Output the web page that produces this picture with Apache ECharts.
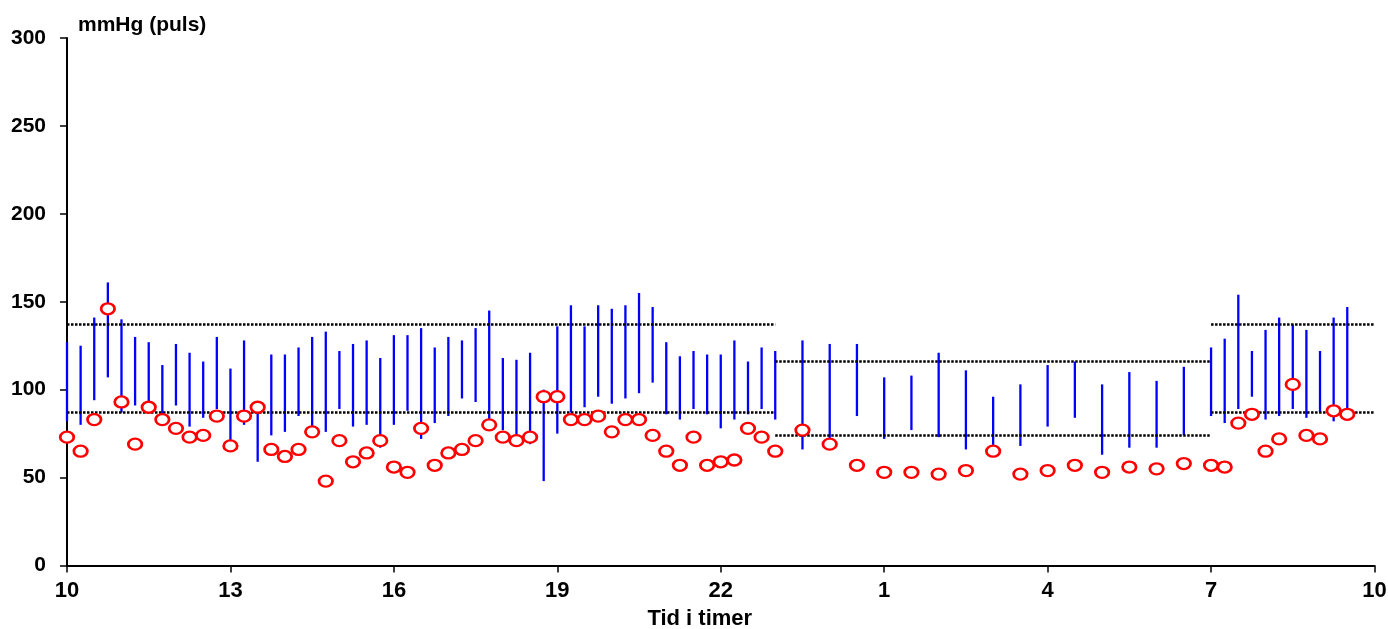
<!DOCTYPE html>
<html>
<head>
<meta charset="utf-8">
<script src="https://cdn.jsdelivr.net/npm/echarts@6/dist/echarts.min.js"></script>
<style>
  html, body { margin: 0; padding: 0; background: #fff; }
  #chart { width: 1388px; height: 629px; }
</style>
</head>
<body>
<div id="chart"></div>
<script>
// Måletidspunkt (klokkeslett)
const times = [
  '10:00','10:15','10:30','10:45','11:00','11:15','11:30','11:45','12:00','12:15','12:30','12:45',
  '13:00','13:15','13:30','13:45','14:00','14:15','14:30','14:45','15:00','15:15','15:30','15:45',
  '16:00','16:15','16:30','16:45','17:00','17:15','17:30','17:45','18:00','18:15','18:30','18:45',
  '19:00','19:15','19:30','19:45','20:00','20:15','20:30','20:45','21:00','21:15','21:30','21:45',
  '22:00','22:15','22:30','22:45','23:00',
  '23:30','0:00','0:30','1:00','1:30','2:00','2:30','3:00','3:30','4:00','4:30','5:00','5:30','6:00','6:30',
  '7:00','7:15','7:30','7:45','8:00','8:15','8:30','8:45','9:00','9:15','9:30'
]
const systolic = [
  127,125,141,161,140,130,127,114,126,121,116,130,
  112,128,93,120,120,124,130,133,122,126,128,118,
  131,131,135,124,130,128,135,145,118,117,121,100,
  136,148,136,148,146,148,155,147,127,119,122,120,
  120,128,116,124,122,
  128,126,126,107,108,121,111,96,103,114,116,103,110,105,113,
  124,129,154,122,134,141,137,134,122,141,147
]
const diastolic = [
  82,80,94,107,87,91,88,86,91,79,84,89,
  71,80,59,74,76,85,78,76,89,79,80,67,
  80,88,72,81,85,95,93,80,77,73,69,48,
  75,87,90,96,92,95,98,104,86,83,89,86,
  78,83,86,89,83,
  66,72,85,72,77,73,66,68,68,79,84,63,67,67,74,
  85,81,89,96,83,85,89,84,87,82,88
]
const pulse = [
  73,65,83,146,93,69,90,83,78,73,74,85,
  68,85,90,66,62,66,76,48,71,59,64,71,
  56,53,78,57,64,66,71,80,73,71,73,96,
  96,83,83,85,76,83,83,74,65,57,73,57,
  59,60,78,73,65,
  77,69,57,53,53,52,54,65,52,54,57,53,56,55,58,
  57,56,81,86,65,72,103,74,72,88,86
]
// Grenseverdier dag / natt
const limitFrom = ['10:00', '23:00', '7:00']
const limitTo = ['23:00', '7:00', '10:00']
const limitUpper = [137, 116, 137]
const limitLower = [87, 74, 87]
const xTicks = ['10', '13', '16', '19', '22', '1', '4', '7', '10']

// timer etter kl. 10
function hoursFrom10(s) {
  const [h, m] = s.split(':').map(Number)
  let v = h + m / 60 - 10
  if (v < 0) v += 24
  return v
}

const FONT = "'Liberation Sans', Arial, sans-serif"

const bpData = times.map((t, i) => [hoursFrom10(t), systolic[i], diastolic[i]])
const pulseData = times.map((t, i) => [hoursFrom10(t), pulse[i]])

const limitSeries = []
limitFrom.forEach((f, i) => {
  const x0 = hoursFrom10(f)
  let x1 = hoursFrom10(limitTo[i])
  if (x1 <= x0) x1 += 24
  ;[limitUpper[i], limitLower[i]].forEach(v => {
    limitSeries.push({
      type: 'line', data: [[x0, v], [x1, v]], symbol: 'none', silent: true, z: 3,
      lineStyle: { color: '#000', width: 2.5, type: [2.5, 1.5], cap: 'butt' }
    })
  })
})

const chart = echarts.init(document.getElementById('chart'))
chart.setOption({
  animation: false,
  grid: { left: 67, right: 13.5, top: 38, bottom: 63.5, containLabel: false, outerBoundsMode: 'none' },
  xAxis: {
    type: 'value', min: 0, max: 24, interval: 3,
    name: 'Tid i timer', nameLocation: 'middle', nameGap: 42,
    nameTextStyle: { fontFamily: FONT, fontWeight: 'bold', fontSize: 22, color: '#000', padding: [0, 42, 0, 0] },
    axisLine: { lineStyle: { color: '#000', width: 2 } },
    axisTick: { show: true, length: 7, lineStyle: { color: '#000', width: 1.5 } },
    splitLine: { show: false },
    axisLabel: {
      fontFamily: FONT, fontWeight: 'bold', fontSize: 22, color: '#000', margin: 14,
      formatter: v => xTicks[Math.round(v / 3)]
    }
  },
  yAxis: {
    type: 'value', min: 0, max: 300, interval: 50,
    name: 'mmHg (puls)', nameLocation: 'end', nameGap: 13,
    nameTextStyle: { fontFamily: FONT, fontWeight: 'bold', fontSize: 21, color: '#000', align: 'left', verticalAlign: 'middle', padding: [0, 0, 0, 11] },
    axisLine: { show: true, lineStyle: { color: '#000', width: 2 } },
    axisTick: { show: true, length: 7, lineStyle: { color: '#000', width: 1.5 } },
    splitLine: { show: false },
    axisLabel: { fontFamily: FONT, fontWeight: 'bold', fontSize: 21, color: '#000', margin: 21 }
  },
  series: [
    {
      type: 'custom', data: bpData, z: 2,
      renderItem(params, api) {
        const top = api.coord([api.value(0), api.value(1)])
        const bot = api.coord([api.value(0), api.value(2)])
        return {
          type: 'line',
          shape: { x1: top[0], y1: top[1], x2: bot[0], y2: bot[1] },
          style: { stroke: '#0000ff', lineWidth: 2.3 }
        }
      }
    },
    ...limitSeries,
    {
      type: 'scatter', data: pulseData, z: 5,
      symbol: 'circle', symbolSize: [13.5, 11],
      itemStyle: { color: '#fff', borderColor: '#ff0000', borderWidth: 2.5, opacity: 1 }
    }
  ]
})
</script>
</body>
</html>
